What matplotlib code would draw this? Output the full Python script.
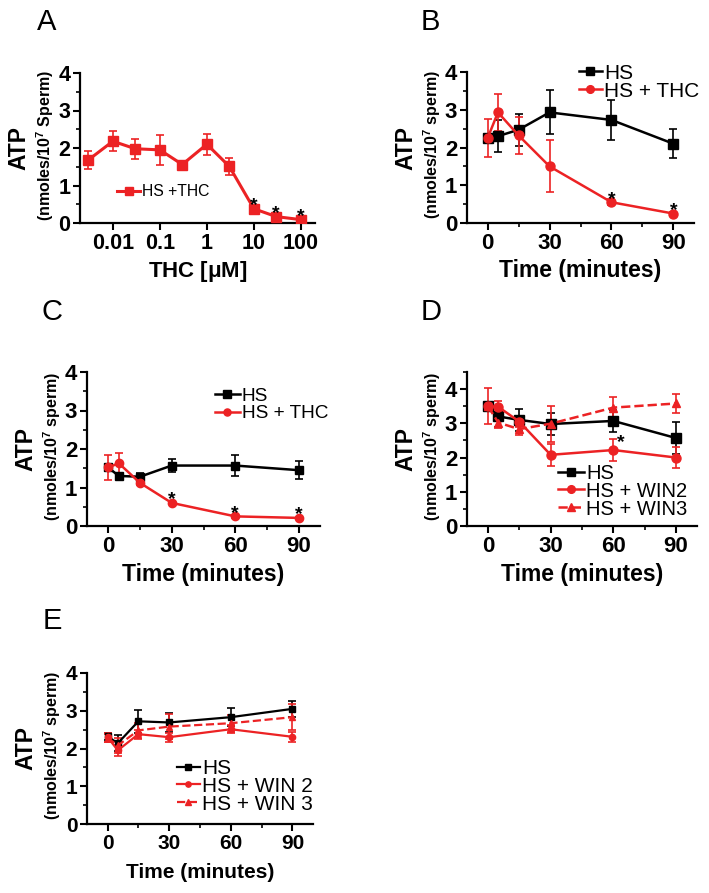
import matplotlib
matplotlib.use('Agg')
import matplotlib.pyplot as plt

plt.rcParams['font.family'] = ['Liberation Sans', 'DejaVu Sans']
plt.rcParams['mathtext.fontset'] = 'custom'
plt.rcParams['mathtext.rm'] = 'Liberation Sans'
plt.rcParams['mathtext.bf'] = 'Liberation Sans:bold'

RED = '#ec2224'
BLACK = '#000000'

# panel A - dose response
thc_conc = [0.003, 0.01, 0.03, 0.1, 0.3, 1, 3, 10, 30, 100]
thc_atp = [1.68, 2.18, 1.98, 1.95, 1.56, 2.1, 1.51, 0.38, 0.17, 0.09]
thc_err = [0.24, 0.27, 0.27, 0.39, 0.07, 0.28, 0.22, 0.05, 0.04, 0.03]
a_stars = [7, 8, 9]
a_ticks = [0.01, 0.1, 1, 10, 100]
a_ticklabels = ['0.01', '0.1', '1', '10', '100']

time_min = [0, 5, 15, 30, 60, 90]

# panel B
b_hs = [2.25, 2.3, 2.47, 2.93, 2.73, 2.1]
b_hs_err = [0.1, 0.43, 0.42, 0.58, 0.52, 0.39]
b_thc = [2.25, 2.93, 2.32, 1.5, 0.55, 0.25]
b_thc_err = [0.5, 0.49, 0.48, 0.69, 0.08, 0.03]
b_stars = [4, 5]

# panel C
c_hs = [1.52, 1.3, 1.28, 1.57, 1.57, 1.45]
c_hs_err = [0.08, 0.05, 0.1, 0.18, 0.27, 0.23]
c_thc = [1.52, 1.63, 1.12, 0.6, 0.25, 0.21]
c_thc_err = [0.33, 0.26, 0.05, 0.04, 0.03, 0.03]
c_stars = [3, 4, 5]

# panel D
d_hs = [3.5, 3.2, 3.1, 2.98, 3.07, 2.57]
d_hs_err = [0.1, 0.3, 0.32, 0.33, 0.33, 0.46]
d_win2 = [3.5, 3.48, 3.05, 2.08, 2.22, 2.0]
d_win2_err = [0.52, 0.16, 0.15, 0.32, 0.32, 0.3]
d_win3 = [3.5, 3.02, 2.83, 2.99, 3.46, 3.58]
d_win3_err = [0.1, 0.15, 0.18, 0.53, 0.31, 0.28]
d_stars = [4]

# panel E
e_hs = [2.32, 2.14, 2.72, 2.69, 2.83, 3.05]
e_hs_err = [0.1, 0.21, 0.3, 0.26, 0.23, 0.22]
e_win2 = [2.3, 1.95, 2.38, 2.3, 2.51, 2.31]
e_win2_err = [0.12, 0.14, 0.12, 0.12, 0.1, 0.13]
e_win3 = [2.28, 2.08, 2.48, 2.58, 2.67, 2.83]
e_win3_err = [0.1, 0.2, 0.2, 0.33, 0.22, 0.34]

W, H = 709, 893
fig = plt.figure(figsize=(W / 100, H / 100), dpi=100)


def make_axes(left, right, top, bottom):
    return fig.add_axes([left / W, 1 - bottom / H, (right - left) / W, (bottom - top) / H])


def series(ax, x, y, err, color, marker, ms, lw, ls='-', elw=1.2, cap=3):
    ax.errorbar(x, y, yerr=err, fmt='none', ecolor=color, elinewidth=elw,
                capsize=cap, capthick=elw, zorder=2)
    line, = ax.plot(x, y, color=color, marker=marker, ms=ms, lw=lw, ls=ls, zorder=3)
    return line


def stars(ax, x, y, idx, dx=0, dy=-1.5):
    for i in idx:
        ax.annotate('*', xy=(x[i], y[i]), xytext=(dx, dy), textcoords='offset pixels',
                    ha='center', va='baseline', fontsize=14, fontweight='bold')


def style(ax, sub, xlabel, tick_fs, xlab_fs, ymax=4):
    for s in ['top', 'right']:
        ax.spines[s].set_visible(False)
    for s in ['left', 'bottom']:
        ax.spines[s].set_linewidth(1.6)
    ax.set_ylim(0, ymax)
    ax.set_yticks([0, 1, 2, 3, 4])
    ax.set_yticks([0.5, 1.5, 2.5, 3.5] + ([4.5] if ymax > 4.4 else []), minor=True)
    ax.tick_params(which='major', direction='out', length=5, width=1.5,
                   labelsize=tick_fs, pad=2)
    ax.tick_params(which='minor', direction='out', length=3, width=1.2)
    for lab in ax.get_xticklabels() + ax.get_yticklabels():
        lab.set_fontweight('bold')
    ax.annotate('ATP', xy=(0, 0.5), xycoords='axes fraction', xytext=(-61, 0),
                textcoords='offset pixels', rotation=90, ha='center', va='center',
                fontsize=16.5, fontweight='bold')
    ax.annotate(sub, xy=(0, 0.5), xycoords='axes fraction', xytext=(-35, 3),
                textcoords='offset pixels', rotation=90, ha='center', va='center',
                fontsize=11.5, fontweight='bold')
    ax.annotate(xlabel, xy=(0.5, 0), xycoords='axes fraction', xytext=(0, -48),
                textcoords='offset pixels', ha='center', va='center',
                fontsize=xlab_fs, fontweight='bold')


def time_axis(ax):
    ax.set_xlim(-10, 100)
    ax.set_xticks([0, 30, 60, 90])
    ax.set_xticks([15, 45, 75], minor=True)


def letter(x, y, s):
    fig.text(x / W, 1 - y / H, s, fontsize=21, ha='center', va='center')


def legend(ax, handles, labels, x, y, fs, hl, sp):
    ax.legend(handles, labels, loc='center left', bbox_to_anchor=(x, y),
              frameon=False, borderpad=0, borderaxespad=0, handlelength=hl,
              handletextpad=0.1, labelspacing=sp, fontsize=fs, markerscale=0.85)


sub_cap = r'(nmoles/10$^{\mathbf{7}}$ Sperm)'
sub_low = r'(nmoles/10$^{\mathbf{7}}$ sperm)'

# ---- A
axA = make_axes(80, 315, 73, 223)
axA.set_xscale('log')
la = series(axA, thc_conc, thc_atp, thc_err, RED, 's', 6.5, 2.2)
axA.set_xlim(0.002, 200)
axA.set_xticks(a_ticks)
axA.set_xticklabels(a_ticklabels)
axA.xaxis.set_minor_locator(matplotlib.ticker.NullLocator())
stars(axA, thc_conc, thc_atp, a_stars)
style(axA, sub_cap, r'THC [$\mathregular{\mu}$M]', 15.5, 16)
legend(axA, [la], ['HS +THC'], 0.157, 0.207, 11.3, 1.5, 0)
letter(47, 22, 'A')

# ---- B
axB = make_axes(467, 694, 72, 223)
l1 = series(axB, time_min, b_hs, b_hs_err, BLACK, 's', 6.5, 1.8)
l2 = series(axB, time_min, b_thc, b_thc_err, RED, 'o', 6.5, 1.8)
time_axis(axB)
stars(axB, time_min, b_thc, b_stars)
style(axB, sub_low, 'Time (minutes)', 16, 16.5)
legend(axB, [l1, l2], ['HS', 'HS + THC'], 0.493, 0.932, 15, 1.1, -0.05)
letter(430, 22, 'B')

# ---- C
axC = make_axes(87, 320, 372, 526)
l1 = series(axC, time_min, c_hs, c_hs_err, BLACK, 's', 6, 1.8)
l2 = series(axC, time_min, c_thc, c_thc_err, RED, 'o', 6, 1.8)
time_axis(axC)
stars(axC, time_min, c_thc, c_stars)
style(axC, sub_low, 'Time (minutes)', 16, 16.5)
legend(axC, [l1, l2], ['HS', 'HS + THC'], 0.549, 0.786, 13.7, 1.3, 0)
letter(52, 312, 'C')

# ---- D
axD = make_axes(467, 697, 372, 526)
l1 = series(axD, time_min, d_hs, d_hs_err, BLACK, 's', 6.5, 1.8)
l2 = series(axD, time_min, d_win2, d_win2_err, RED, 'o', 6.5, 1.8)
l3 = series(axD, time_min, d_win3, d_win3_err, RED, '^', 6, 1.8, ls='--')
time_axis(axD)
stars(axD, time_min, d_hs, d_stars, dx=7, dy=-26)
style(axD, sub_low, 'Time (minutes)', 16, 16.5, ymax=4.5)
legend(axD, [l1, l2, l3], ['HS', 'HS + WIN2', 'HS + WIN3'], 0.396, 0.227, 14.5, 1.3, -0.05)
letter(431, 312, 'D')

# ---- E
axE = make_axes(87, 313, 673, 824)
l1 = series(axE, time_min, e_hs, e_hs_err, BLACK, 's', 4.5, 1.6)
l2 = series(axE, time_min, e_win2, e_win2_err, RED, 'o', 4.5, 1.6)
l3 = series(axE, time_min, e_win3, e_win3_err, RED, '^', 4.5, 1.6, ls='--')
time_axis(axE)
style(axE, sub_low, 'Time (minutes)', 15, 15)
legend(axE, [l1, l2, l3], ['HS', 'HS + WIN 2', 'HS + WIN 3'], 0.398, 0.25, 15, 1.1, -0.05)
letter(52, 621, 'E')

fig.savefig('out.png', dpi=100)
